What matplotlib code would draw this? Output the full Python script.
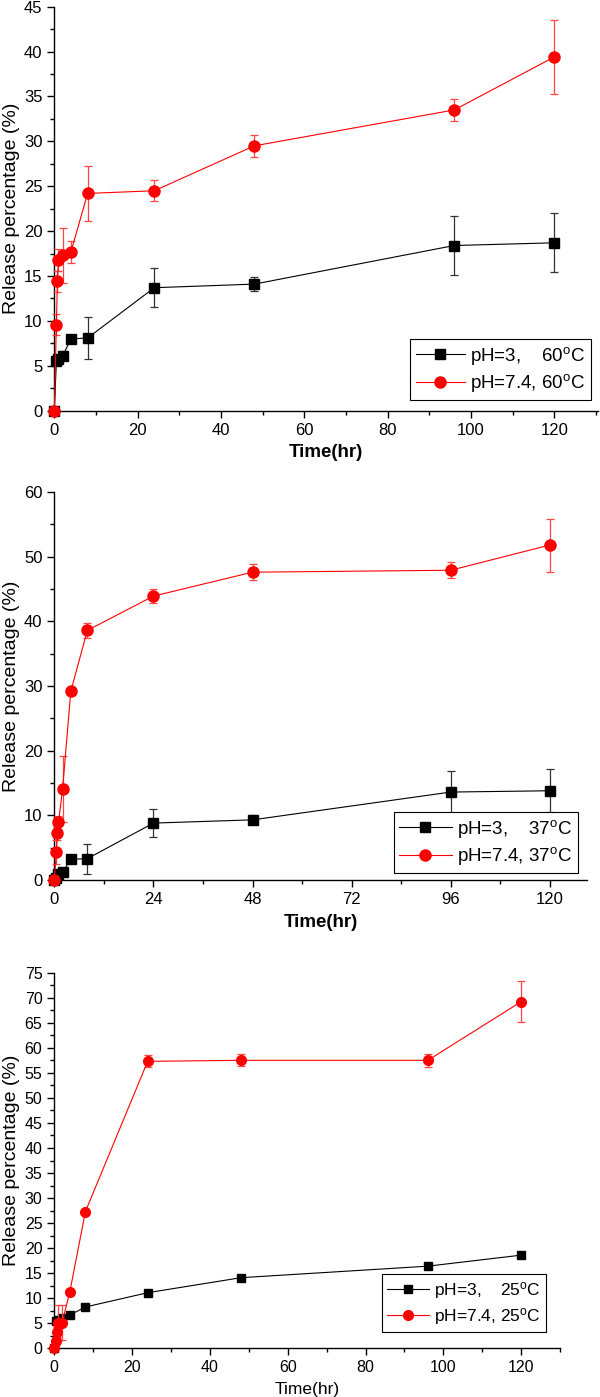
import matplotlib
matplotlib.use("Agg")
import matplotlib.pyplot as plt
from matplotlib.ticker import MultipleLocator
from matplotlib.lines import Line2D

plt.rcParams['font.family'] = ['Liberation Sans', 'DejaVu Sans']
plt.rcParams['mathtext.fontset'] = 'custom'
plt.rcParams['mathtext.rm'] = 'Liberation Sans'
plt.rcParams['mathtext.it'] = 'Liberation Sans:italic'
plt.rcParams['mathtext.bf'] = 'Liberation Sans:bold'

# ---- data ----
t_black = [0, 0.5, 1, 2, 4, 8, 24, 48, 96, 120]
t_red = [0, 0.5, 0.75, 1, 2, 4, 8, 24, 48, 96, 120]

# 60 C
p60_black = [0, 5.5, 5.8, 6.1, 8.0, 8.1, 13.7, 14.1, 18.4, 18.7]
p60_black_err = [0, 0.3, 0.4, 0.5, 0.3, 2.3, 2.2, 0.8, 3.3, 3.3]
p60_red = [0, 9.6, 14.4, 16.8, 17.3, 17.7, 24.2, 24.5, 29.5, 33.5, 39.4]
p60_red_err = [0, 1.2, 1.2, 1.2, 3.1, 1.2, 3.1, 1.15, 1.2, 1.2, 4.1]

# 37 C
p37_black = [0, 0.3, 1.0, 1.2, 3.2, 3.3, 8.8, 9.3, 13.6, 13.8]
p37_black_err = [0, 0.2, 0.3, 0.3, 0.3, 2.3, 2.2, 0.7, 3.3, 3.3]
p37_red = [0, 4.3, 7.2, 8.9, 14.0, 29.2, 38.6, 43.9, 47.6, 47.9, 51.8]
p37_red_err = [0, 1.9, 1.0, 1.0, 5.1, 0.5, 1.2, 1.1, 1.2, 1.2, 4.1]

# 25 C
p25_black = [0, 5.4, 5.65, 6.0, 6.65, 8.25, 11.1, 14.1, 16.4, 18.6]
p25_black_err = [0, 0.2, 0.2, 0.2, 0.2, 0.2, 0.2, 0.2, 0.2, 0.2]
p25_red = [0, 1.5, 3.3, 5.0, 5.1, 11.3, 27.3, 57.3, 57.5, 57.5, 69.2]
p25_red_err = [0, 0.8, 1.0, 3.6, 3.5, 0.3, 0.3, 1.2, 1.2, 1.3, 4.1]

labels_black = [r'pH=3,    60$^{\rm o}$C', r'pH=3,    37$^{\rm o}$C', r'pH=3,    25$^{\rm o}$C']
labels_red = [r'pH=7.4, 60$^{\rm o}$C', r'pH=7.4, 37$^{\rm o}$C', r'pH=7.4, 25$^{\rm o}$C']

W, H = 600, 1397
fig = plt.figure(figsize=(6.0, 13.97), dpi=100)

def rect(l, r, t, b):
    return [l / W, 1 - b / H, (r - l) / W, (b - t) / H]

panels = [
    dict(rect=rect(54.3, 598, 6.7, 410.7), ylim=(0, 45), ymaj=5, ymin=2.5, xmaj=20, xmin=10,
         xlim=(0, 130.5), black=(p60_black, p60_black_err), red=(p60_red, p60_red_err),
         leg=(591, 400), fs=12, lfs=13.5, xl=13.5, xw='bold', yl=14, ms_r=8, ms_b=6.5, hl=2.6),
    dict(rect=rect(54.3, 587, 492, 880), ylim=(0, 60), ymaj=10, ymin=5, xmaj=24, xmin=12,
         xlim=(0, 129), black=(p37_black, p37_black_err), red=(p37_red, p37_red_err),
         leg=(578, 873), fs=12, lfs=13.5, xl=13.5, xw='bold', yl=14, ms_r=8, ms_b=6.5, hl=2.8),
    dict(rect=rect(54.3, 560, 972.7, 1348.3), ylim=(0, 75), ymaj=5, ymin=2.5, xmaj=20, xmin=10,
         xlim=(0, 130), black=(p25_black, p25_black_err), red=(p25_red, p25_red_err),
         leg=(546, 1332), fs=11.5, lfs=12.5, xl=12.5, xw='normal', yl=14, ms_r=7, ms_b=5.5, hl=2.4),
]

for i, p in enumerate(panels):
    ax = fig.add_axes(p['rect'])
    b, be = p['black']
    r, re = p['red']
    ax.errorbar(t_black, b, yerr=be, color='black', ecolor='#333333', elinewidth=0.9,
                capsize=3, capthick=0.9, lw=0.8, marker='s', ms=p['ms_b'],
                clip_on=False, zorder=3)
    ax.errorbar(t_red, r, yerr=re, color='red', ecolor='#ff4444', elinewidth=0.9,
                capsize=3, capthick=0.9, lw=0.8, marker='o', ms=p['ms_r'],
                clip_on=False, zorder=4)
    ax.set_xlim(*p['xlim'])
    ax.set_ylim(*p['ylim'])
    ax.xaxis.set_major_locator(MultipleLocator(p['xmaj']))
    ax.xaxis.set_minor_locator(MultipleLocator(p['xmin']))
    ax.yaxis.set_major_locator(MultipleLocator(p['ymaj']))
    ax.yaxis.set_minor_locator(MultipleLocator(p['ymin']))
    for s in ['top', 'right']:
        ax.spines[s].set_visible(False)
    for s in ['left', 'bottom']:
        ax.spines[s].set_linewidth(1.0)
    ax.tick_params(which='major', direction='out', length=5, width=1.0, labelsize=p['fs'])
    ax.tick_params(which='minor', direction='out', length=3, width=1.0)
    ax.set_xlabel('Time(hr)', fontsize=p['xl'], fontweight=p['xw'], labelpad=5)
    ax.set_ylabel('Release percentage (%)', fontsize=p['yl'], labelpad=3)
    handles = [
        Line2D([], [], color='black', lw=0.8, marker='s', ms=p['ms_b']),
        Line2D([], [], color='red', lw=0.8, marker='o', ms=p['ms_r']),
    ]
    lx, ly = p['leg']
    leg = ax.legend(handles, [labels_black[i], labels_red[i]], loc='lower right',
                    bbox_to_anchor=(lx / W, 1 - ly / H),
                    bbox_transform=fig.transFigure, fontsize=p['lfs'], frameon=True,
                    fancybox=False, edgecolor='black', framealpha=1, borderaxespad=0,
                    handlelength=p['hl'], handletextpad=0.3, borderpad=0.3,
                    labelspacing=0.3)
    leg.get_frame().set_linewidth(0.8)

fig.savefig('out.png', dpi=100)
